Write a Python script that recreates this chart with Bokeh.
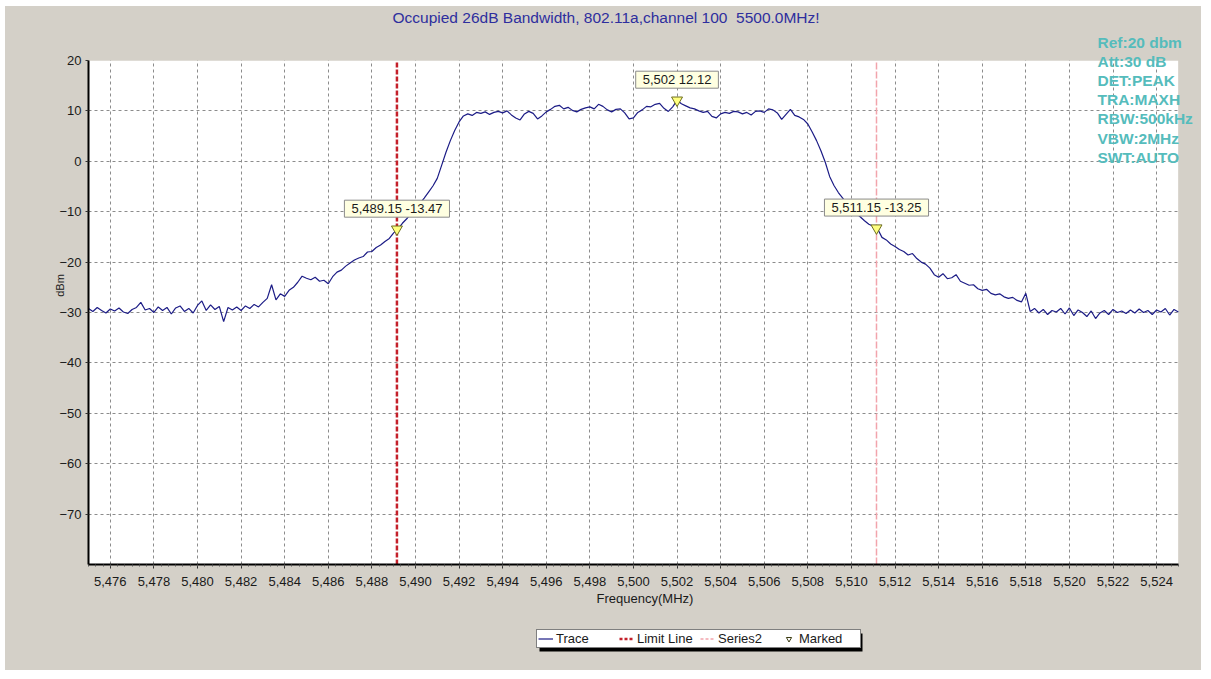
from bokeh.plotting import figure
from bokeh.layouts import column
from bokeh.models import (FixedTicker, NumeralTickFormatter, Label, Legend, LegendItem,
                          BoxAnnotation)
from bokeh.embed import file_html
from bokeh.resources import INLINE

# ---------------- data ----------------
TITLE = "Occupied 26dB Bandwidth, 802.11a,channel 100\u00a0 5500.0MHz!"
SETTINGS = ["Ref:20 dbm", "Att:30 dB", "DET:PEAK", "TRA:MAXH",
            "RBW:500kHz", "VBW:2MHz", "SWT:AUTO"]
X_LABEL = "Frequency(MHz)"
Y_LABEL = "dBm"

FREQ_START = 5475.0   # MHz, first sweep point
FREQ_STEP = 0.2       # MHz between sweep points
TRACE_DBM = [
    -29.2, -29.8, -29.0, -29.6, -30.1, -29.3, -29.7, -29.1, -29.9, -30.2,   # 5475.0
    -29.4, -29.0, -28.0, -29.5, -29.2, -30.0, -28.9, -29.6, -29.0, -30.3,   # 5477.0
    -29.1, -28.7, -29.8, -29.2, -30.1, -28.6, -27.7, -29.6, -28.5, -29.4,   # 5479.0
    -28.8, -31.8, -29.0, -29.5, -28.9, -29.6, -28.7, -29.2, -28.4, -28.9,   # 5481.0
    -28.0, -27.2, -24.5, -27.5, -26.3, -26.8, -25.6, -25.0, -24.0, -22.8,   # 5483.0
    -23.2, -23.5, -23.0, -23.8, -23.6, -24.3, -22.9, -22.0, -21.6, -20.8,   # 5485.0
    -20.2, -19.6, -19.2, -18.9, -18.0, -17.9, -17.1, -16.6, -15.9, -15.3,   # 5487.0
    -14.2, -13.4, -12.3, -11.4, -10.4, -9.6, -8.4, -7.3, -6.1, -4.9,        # 5489.0
    -3.4, -0.8, 1.8, 4.1, 6.1, 7.8, 9.0, 9.4, 9.1, 9.7,                     # 5491.0
    9.5, 9.8, 9.3, 9.7, 9.9, 9.6, 10.0, 9.2, 8.6, 8.2,                      # 5493.0
    9.4, 9.9, 9.5, 8.4, 9.0, 9.8, 10.3, 10.9, 11.1, 10.4,                   # 5495.0
    10.7, 10.1, 9.8, 10.3, 10.6, 10.8, 10.4, 11.3, 10.9, 10.2,              # 5497.0
    9.8, 10.3, 10.4, 9.6, 8.4, 8.6, 9.7, 10.2, 10.9, 10.8,                  # 5499.0
    11.3, 11.5, 10.5, 9.9, 10.8, 12.1, 11.4, 11.0, 10.6, 10.4,              # 5501.0
    10.0, 9.7, 9.9, 8.9, 8.6, 9.4, 9.7, 9.5, 9.9, 9.8,                      # 5503.0
    9.4, 9.7, 9.2, 9.9, 10.0, 9.7, 10.4, 10.2, 9.6, 8.3,                    # 5505.0
    9.3, 10.3, 9.1, 8.8, 8.3, 7.4, 5.8, 4.1, 2.1, -0.2,                     # 5507.0
    -3.0, -4.8, -6.2, -7.3, -8.4, -9.3, -10.2, -11.0, -11.8, -12.5,         # 5509.0
    -12.9, -13.4, -15.1, -15.6, -16.4, -16.9, -17.5, -17.9, -18.6, -18.3,   # 5511.0
    -19.3, -20.0, -20.4, -21.2, -22.5, -23.0, -22.3, -23.3, -23.1, -22.5,   # 5513.0
    -23.8, -24.2, -24.6, -24.5, -25.3, -25.6, -25.4, -26.2, -26.5, -26.3,   # 5515.0
    -26.9, -27.2, -27.0, -27.6, -27.9, -26.2, -29.8, -29.2, -30.1, -29.4,   # 5517.0
    -30.4, -29.6, -29.9, -29.2, -30.3, -29.1, -30.6, -29.5, -30.0, -30.8,   # 5519.0
    -29.7, -31.2, -30.1, -29.6, -30.4, -29.4, -30.0, -29.7, -30.2, -29.5,   # 5521.0
    -30.1, -29.3, -30.0, -29.6, -30.4, -29.5, -29.9, -29.2, -30.5, -29.4,   # 5523.0
    -29.9,                                                                  # 5525.0
]
FREQ = [round(FREQ_START + FREQ_STEP * i, 2) for i in range(len(TRACE_DBM))]

MARK_FREQ = [5489.15, 5502.0, 5511.15]
MARK_DBM = [-13.47, 12.12, -13.25]
LIMIT_FREQ = 5489.15
SERIES2_FREQ = 5511.15

PLOT_X = (5475, 5525)       # chart (white) area
PLOT_Y = (-80, 20)
VIEW_X = (5475, 5526.06)    # frame incl. the grey strip on the right
VIEW_Y = (-80, 30.71)       # frame incl. the grey strip on top
X_TICKS = list(range(5476, 5525, 2))
X_MINOR = [5475 + k / 3 for k in range(0, 151)]
Y_TICKS = list(range(-70, 21, 10))
Y_GRID = [t for t in Y_TICKS if t < PLOT_Y[1]]

LEGEND_NAMES = ["Trace", "Limit Line", "Series2", "Marked"]

# ---------------- styles ----------------
BG = "#d4d0c8"
FONT = "Liberation Sans"
TRACE_COLOR = "#1c1c86"
LIMIT_COLOR = "#c4202a"
SERIES2_COLOR = "#f2a4ac"
MARK_FILL = "#ffff80"
MARK_LINE = "#6e6e20"
TITLE_COLOR = "#2e2e9e"
INFO_COLOR = "#55bcbc"
GRID_COLOR = "#8c8c8c"

p = figure(width=1196, height=612, x_range=VIEW_X, y_range=VIEW_Y,
           output_backend="svg", toolbar_location=None, tools="",
           min_border_left=83, min_border_right=0, min_border_top=0,
           min_border_bottom=54,
           background_fill_color=BG, border_fill_color=None)
p.outline_line_color = None
try:
    p.frame_align = False
except Exception:
    pass

# white chart area (drawn first, below the grid)
p.add_layout(BoxAnnotation(left=PLOT_X[0], right=PLOT_X[1], bottom=PLOT_Y[0],
                           top=PLOT_Y[1], fill_color="white", fill_alpha=1,
                           line_color=None, level="image"))

# axes
xa = p.xaxis[0]
xa.ticker = FixedTicker(ticks=X_TICKS, minor_ticks=X_MINOR)
xa.formatter = NumeralTickFormatter(format="0,0")
xa.bounds = PLOT_X
ya = p.yaxis[0]
ya.ticker = FixedTicker(ticks=Y_TICKS)
ya.bounds = PLOT_Y
for ax in (xa, ya):
    ax.axis_line_width = 2
    ax.axis_line_color = "black"
    ax.major_tick_in = 0
    ax.minor_tick_in = 0
    ax.major_tick_line_color = "#333333"
    ax.minor_tick_line_color = "#555555"
    ax.major_label_text_font = FONT
    ax.major_label_text_font_size = "13px"
    ax.major_label_text_color = "#1a1a1a"
    ax.axis_label_text_font = FONT
    ax.axis_label_text_font_style = "normal"
    ax.axis_label_text_color = "#1a1a1a"
xa.major_tick_out = 4
xa.minor_tick_out = 2
xa.major_label_standoff = 8
xa.axis_label = X_LABEL
xa.axis_label_text_font_size = "13px"
xa.axis_label_standoff = 2
ya.major_tick_out = 3
ya.minor_tick_out = 0
ya.major_label_standoff = 4
ya.axis_label = Y_LABEL
ya.axis_label_text_font_size = "11px"
ya.axis_label_standoff = -10

p.xgrid.ticker = FixedTicker(ticks=X_TICKS)
p.ygrid.ticker = FixedTicker(ticks=Y_GRID)
for g in (p.xgrid, p.ygrid):
    g.grid_line_color = GRID_COLOR
    g.grid_line_dash = "3 3"
    g.grid_line_width = 1

# grey strips that hide grid lines outside the chart area
p.add_layout(BoxAnnotation(bottom=PLOT_Y[1], fill_color=BG, fill_alpha=1,
                           line_color=None, level="underlay"))
p.add_layout(BoxAnnotation(left=PLOT_X[1], fill_color=BG, fill_alpha=1,
                           line_color=None, level="underlay"))

# glyphs
p.line(FREQ, TRACE_DBM, line_color=TRACE_COLOR, line_width=1.2)
p.segment(x0=[LIMIT_FREQ], y0=[PLOT_Y[0]], x1=[LIMIT_FREQ], y1=[PLOT_Y[1]],
          line_color=LIMIT_COLOR, line_width=2.5, line_dash="5 2")
p.segment(x0=[SERIES2_FREQ], y0=[PLOT_Y[0]], x1=[SERIES2_FREQ], y1=[PLOT_Y[1]],
          line_color=SERIES2_COLOR, line_width=1.5, line_dash="7 2")
p.scatter(MARK_FREQ, MARK_DBM, marker="inverted_triangle", size=11,
          fill_color=MARK_FILL, line_color=MARK_LINE, line_width=1)

# marker labels
def fmt_freq(f):
    s = f"{f:,.2f}"
    return s[:-3] if s.endswith(".00") else s

for f, d in zip(MARK_FREQ, MARK_DBM):
    txt = f"{fmt_freq(f)} {d:.2f}"
    p.add_layout(Label(x=f, y=d, text=txt, x_offset=2, y_offset=10,
                       text_align="center", text_baseline="bottom",
                       text_font=FONT, text_font_size="13px", text_alpha=0,
                       background_fill_color="#7a7a7a",
                       padding=dict(left=7, right=7, top=1, bottom=1)))
    p.add_layout(Label(x=f, y=d, text=txt, y_offset=12,
                       text_align="center", text_baseline="bottom",
                       text_font=FONT, text_font_size="13px", text_color="#1a1a1a",
                       background_fill_color="#ffffe1", border_line_color="#8a8a8a",
                       padding=dict(left=7, right=7, top=1, bottom=1)))

# title
p.add_layout(Label(x=304, y=547, x_units="screen", y_units="screen", text=TITLE,
                   text_align="left", text_baseline="middle", text_font=FONT,
                   text_font_size="15.5px", text_color=TITLE_COLOR))
# instrument settings
for k, s in enumerate(SETTINGS):
    p.add_layout(Label(x=1009, y=522.3 - 19.17 * k, x_units="screen", y_units="screen",
                       text=s, text_align="left", text_baseline="middle",
                       text_font=FONT, text_font_size="15.5px", text_font_style="bold",
                       text_color=INFO_COLOR))

# ---------------- legend strip (second figure below the chart) ----------------
q = figure(width=1196, height=52, x_range=(0, 1), y_range=(0, 1),
           output_backend="svg", toolbar_location=None, tools="",
           x_axis_type=None, y_axis_type=None,
           min_border_left=0, min_border_right=0, min_border_top=0, min_border_bottom=0,
           background_fill_color=BG, border_fill_color=None)
q.outline_line_color = None
try:
    q.frame_align = False
except Exception:
    pass
# the series drawn again (outside this strip's view) only to give the legend its swatches
s_trace = q.line(FREQ, TRACE_DBM, line_color=TRACE_COLOR, line_width=1.2)
s_limit = q.segment(x0=[LIMIT_FREQ], y0=[PLOT_Y[0]], x1=[LIMIT_FREQ], y1=[PLOT_Y[1]],
                    line_color=LIMIT_COLOR, line_width=2.5, line_dash="3 2")
s_s2 = q.segment(x0=[SERIES2_FREQ], y0=[PLOT_Y[0]], x1=[SERIES2_FREQ], y1=[PLOT_Y[1]],
                 line_color=SERIES2_COLOR, line_width=1.5, line_dash="3 2")
s_mark = q.scatter(MARK_FREQ, MARK_DBM, marker="inverted_triangle", size=9,
                   fill_color=None, line_color="#3a3a10", line_width=1)

# drop shadow of the legend box
q.add_layout(BoxAnnotation(left=534, right=857, bottom=19, top=37,
                           left_units="screen", right_units="screen",
                           bottom_units="screen", top_units="screen",
                           fill_color="black", fill_alpha=1, line_color=None))
legend = Legend(items=[LegendItem(label=LEGEND_NAMES[0], renderers=[s_trace]),
                       LegendItem(label=LEGEND_NAMES[1], renderers=[s_limit]),
                       LegendItem(label=LEGEND_NAMES[2], renderers=[s_s2]),
                       LegendItem(label=LEGEND_NAMES[3], renderers=[s_mark])],
                location=(531, 22), orientation="horizontal", margin=0, padding=1,
                spacing=3, glyph_width=15, glyph_height=13, label_height=13,
                label_width=60, label_standoff=3, label_text_font=FONT,
                label_text_font_size="13px", label_text_color="#1a1a1a",
                border_line_color="black", border_line_width=1,
                background_fill_color="white", background_fill_alpha=1)
q.add_layout(legend)

layout = column(p, q, spacing=0)
layout.margin = (6, 0, 0, 5)
layout.styles = {"background-color": BG}

open("out.html", "w").write(file_html(layout, INLINE))
